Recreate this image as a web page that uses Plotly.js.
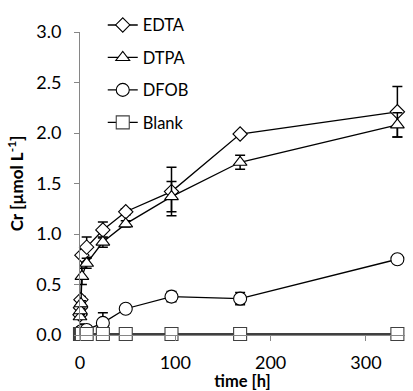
<!DOCTYPE html>
<html>
<head>
<meta charset="utf-8">
<script src="https://cdn.plot.ly/plotly-3.0.1.min.js"></script>
<style>html,body{margin:0;padding:0;background:#fff;}#chart{width:413px;height:391px;}</style>
</head>
<body>
<div id="chart"></div>
<script>
// time points [h]
const timeH = [0, 0.5, 1, 2, 7, 24, 48, 96, 168, 333];
const seriesNames = ["EDTA", "DTPA", "DFOB", "Blank"];
const edta    = [0.20, 0.27, 0.35, 0.79, 0.87, 1.04, 1.22, 1.42, 1.99, 2.21];
const edtaErr = [0.02, 0.03, 0.03, 0.05, 0.10, 0.08, 0.03, 0.24, 0.02, 0.25];
const dtpa    = [0.18, 0.24, 0.31, 0.58, 0.71, 0.92, 1.10, 1.37, 1.71, 2.08];
const dtpaErr = [0.02, 0.02, 0.03, 0.08, 0.05, 0.05, 0.03, 0.15, 0.07, 0.12];
const dfob    = [0.02, 0.03, 0.03, 0.04, 0.05, 0.12, 0.26, 0.38, 0.36, 0.75];
const dfobErr = [0.09, 0.02, 0.02, 0.02, 0.02, 0.10, 0.02, 0.05, 0.06, 0.02];
const blank   = [0.01, 0.01, 0.01, 0.01, 0.01, 0.01, 0.01, 0.01, 0.01, 0.01];
const blankErr= [0.005,0.005,0.005,0.005,0.005,0.005,0.005,0.005,0.005,0.005];
const xTicks = [0, 100, 200, 300];
const yTicks = [0, 0.5, 1.0, 1.5, 2.0, 2.5, 3.0];

const FONT = "Lato, 'Open Sans', sans-serif";
const symbols = ["diamond", "triangle-up", "circle", "square"];
const sizes = [11, 12, 13, 13];
const edges = ["#000", "#000", "#000", "#404040"];
const ys = [edta, dtpa, dfob, blank];
const errs = [edtaErr, dtpaErr, dfobErr, blankErr];

const traces = seriesNames.map((n, i) => ({
  type: "scatter",
  mode: "lines+markers",
  name: n,
  legendgroup: n,
  x: timeH,
  y: ys[i],
  cliponaxis: false,
  line: {color: "#000", width: 1.3},
  marker: {symbol: symbols[i], size: sizes[i], color: "#fff", line: {color: edges[i], width: 1.1}},
  error_y: {type: "data", array: errs[i], visible: true, color: "#000", thickness: 1.5, width: 5}
}));

const layout = {
  width: 413, height: 391,
  margin: {l: 80, r: 8, t: 23, b: 56},
  paper_bgcolor: "#fff", plot_bgcolor: "#fff",
  font: {family: FONT, color: "#000"},
  showlegend: true,
  legend: {
    x: 0.07, y: 1.08, xanchor: "left", yanchor: "top",
    bgcolor: "rgba(0,0,0,0)",
    font: {family: FONT, size: 16.5, color: "#000"},
    tracegroupgap: 8
  },
  xaxis: {
    range: [0, 341], tickvals: xTicks, ticktext: xTicks.map(String),
    showgrid: false, zeroline: false, showline: true, linecolor: "#868686", linewidth: 1,
    ticks: "outside", ticklen: 5, tickcolor: "#868686", ticklabelstandoff: 6,
    tickfont: {family: FONT, size: 18, color: "#000"},
    title: {text: "<b>time [h]</b>", font: {family: FONT, size: 16.5, color: "#000"}, standoff: 10}
  },
  yaxis: {
    range: [0, 3], tickvals: yTicks, ticktext: yTicks.map(v => v.toFixed(1)),
    showgrid: false, zeroline: false, showline: true, linecolor: "#868686", linewidth: 1,
    ticks: "outside", ticklen: 5, tickcolor: "#868686", ticklabelstandoff: 9,
    tickfont: {family: FONT, size: 18, color: "#000"},
    title: {text: "<b>Cr [µmol L<sup>-1</sup>]</b>", font: {family: FONT, size: 17, color: "#000"}, standoff: 8}
  }
};

Plotly.newPlot("chart", traces, layout, {displayModeBar: false, staticPlot: true});
</script>
</body>
</html>
